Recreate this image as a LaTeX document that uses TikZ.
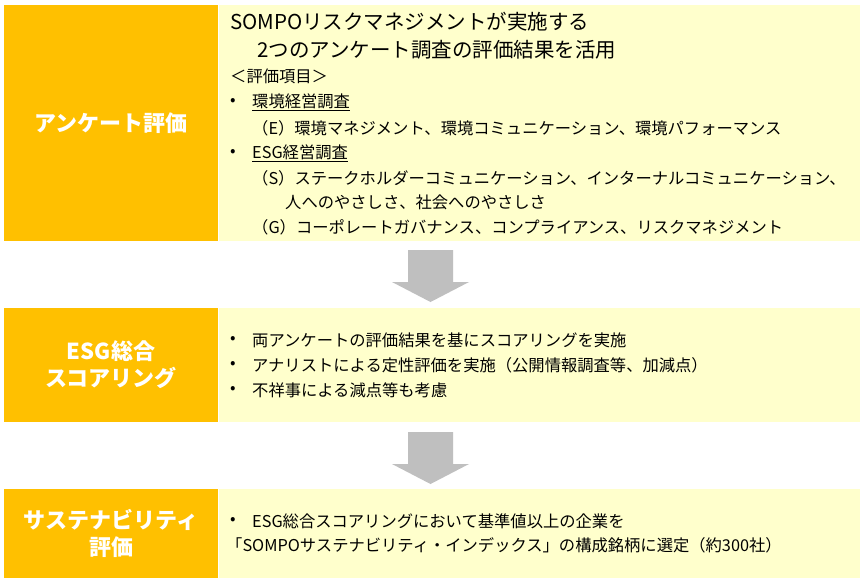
\documentclass[tikz,border=0pt]{standalone}
\usepackage{fontspec}
\setmainfont{Noto Sans CJK JP}
\begin{document}
\begin{tikzpicture}[x=1pt,y=-1pt,
  lbox/.style={fill=orange1,draw=none},
  rbox/.style={fill=yellow1,draw=none},
  lab/.style={text=white,font=\fontsize{22}{27}\selectfont\bfseries,align=center},
  big/.style={anchor=west,font=\fontsize{20.5}{22}\selectfont,inner sep=0pt},
  txt/.style={anchor=west,font=\fontsize{16.3}{18}\selectfont,inner sep=0pt},
  arr/.style={fill=gray1,draw=none}]
\definecolor{orange1}{RGB}{255,192,0}
\definecolor{yellow1}{RGB}{255,255,204}
\definecolor{gray1}{RGB}{191,191,191}
\useasboundingbox (0,0) rectangle (865,584);
\fill[white] (0,0) rectangle (865,584);
% row 1
\path[lbox] (4,5) rectangle (218,241);
\path[rbox] (219,5) rectangle (860,241);
\node[lab] (l1) at (111,123) {アンケート評価};
\node[big] (t1) at (230,22) {SOMPOリスクマネジメントが実施する};
\node[big] (t2) at (257,50) {2つのアンケート調査の評価結果を活用};
\node[txt] (t3) at (230,76) {＜評価項目＞};
\node[txt] (b1) at (230,102) {•};
\node[txt] (t4) at (252,102) {\underline{環境経営調査}};
\node[txt] (t5) at (252,128) {（E）環境マネジメント、環境コミュニケーション、環境パフォーマンス};
\node[txt] (b2) at (230,153) {•};
\node[txt] (t6) at (252,153) {\underline{ESG経営調査}};
\node[txt] (t7) at (252,178) {（S）ステークホルダーコミュニケーション、インターナルコミュニケーション、};
\node[txt] (t8) at (285,202) {人へのやさしさ、社会へのやさしさ};
\node[txt] (t9) at (252,227) {（G）コーポレートガバナンス、コンプライアンス、リスクマネジメント};
% arrow 1
\path[arr] (408,250) -- (453,250) -- (453,282) -- (469,282) -- (430.5,302) -- (392,282) -- (408,282) -- cycle;
% row 2
\path[lbox] (4,308) rectangle (218,422);
\path[rbox] (219,308) rectangle (860,422);
\node[lab] (l2) at (111,365) {ESG総合\\スコアリング};
\node[txt] (b3) at (230,340) {•};
\node[txt] (u1) at (252,340) {両アンケートの評価結果を基にスコアリングを実施};
\node[txt] (b4) at (230,365) {•};
\node[txt] (u2) at (252,365) {アナリストによる定性評価を実施（公開情報調査等、加減点）};
\node[txt] (b5) at (230,390) {•};
\node[txt] (u3) at (252,390) {不祥事による減点等も考慮};
% arrow 2
\path[arr] (408,432) -- (453,432) -- (453,464) -- (469,464) -- (430.5,484) -- (392,464) -- (408,464) -- cycle;
% row 3
\path[lbox] (4,489) rectangle (218,578);
\path[rbox] (219,489) rectangle (860,578);
\node[lab] (l3) at (111,533) {サステナビリティ\\評価};
\node[txt] (b6) at (230,521) {•};
\node[txt] (v1) at (252,521) {ESG総合スコアリングにおいて基準値以上の企業を};
\node[txt] (v2) at (226,545) {「SOMPOサステナビリティ・インデックス」の構成銘柄に選定（約300社）};
\end{tikzpicture}
\end{document}
